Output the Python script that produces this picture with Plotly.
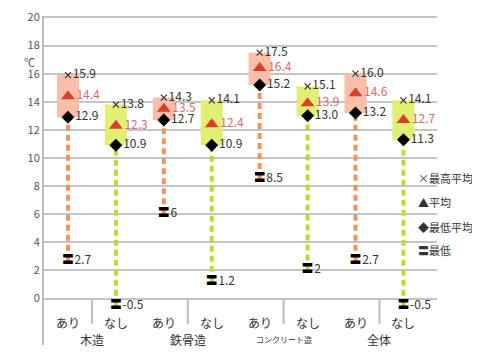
import plotly.graph_objects as go

# ---- data ----
types = ["木造", "鉄骨造", "コンクリート造", "全体"]
ac = ["あり", "なし"]
max_avg = [15.9, 13.8, 14.3, 14.1, 17.5, 15.1, 16.0, 14.1]
avg = [14.4, 12.3, 13.5, 12.4, 16.4, 13.9, 14.6, 12.7]
min_avg = [12.9, 10.9, 12.7, 10.9, 15.2, 13.0, 13.2, 11.3]
min_val = [2.7, -0.5, 6, 1.2, 8.5, 2, 2.7, -0.5]
min_txt = ["2.7", "-0.5", "6", "1.2", "8.5", "2", "2.7", "-0.5"]
yticks = list(range(0, 21, 2))
legend_labels = ["×最高平均", "▲平均", "◆最低平均", "〓最低"]

FONT = "Noto Sans CJK JP"
n = len(avg)
xs = [i + 0.5 for i in range(n)]
is_ari = [i % 2 == 0 for i in range(n)]
box_col = ["#f9bfa9" if a else "#e2ee76" for a in is_ari]
dash_col = {True: "#ef9461", False: "#c3d733"}

# page has an 8px body margin; figure sized to fit inside the window
W, H = 464, 343
L, T = 36, 8
PW, PH = 393, 329
YMIN, YMAX = -3.3, 20.1

fig = go.Figure()

# boxes (min avg -> max avg)
fig.add_trace(go.Bar(
    x=xs, base=min_avg, y=[mx - mn for mx, mn in zip(max_avg, min_avg)],
    width=0.46, marker=dict(color=box_col, line=dict(width=0)),
    hoverinfo="skip", showlegend=False))

# dashed lines min -> min avg
for flag in (True, False):
    lx, ly = [], []
    for i in range(n):
        if is_ari[i] == flag:
            lx += [xs[i], xs[i], None]
            ly += [min_val[i], min_avg[i], None]
    fig.add_trace(go.Scatter(x=lx, y=ly, mode="lines",
                             line=dict(color=dash_col[flag], width=4, dash="6px,4px"),
                             hoverinfo="skip", showlegend=False))

lab_font = dict(family=FONT, size=12, color="#333333")

# max avg (×)
fig.add_trace(go.Scatter(
    x=xs, y=max_avg, mode="markers+text",
    marker=dict(symbol="x-thin", size=6, line=dict(width=1.2, color="#333333")),
    text=[f"{v:.1f}" for v in max_avg], textposition="middle right",
    textfont=lab_font, hoverinfo="skip", showlegend=False))

# average (triangle)
fig.add_trace(go.Scatter(
    x=xs, y=avg, mode="markers+text",
    marker=dict(symbol="triangle-up", size=12, color="#d8402a"),
    text=[f"{v:.1f}" for v in avg], textposition="middle right",
    textfont=dict(family=FONT, size=12, color="#d46a6a"),
    hoverinfo="skip", showlegend=False))

# min avg (diamond)
fig.add_trace(go.Scatter(
    x=xs, y=min_avg, mode="markers+text",
    marker=dict(symbol="diamond", size=10, color="#000000"),
    text=[f"{v:.1f}" for v in min_avg], textposition="middle right",
    textfont=lab_font, hoverinfo="skip", showlegend=False))

# min (〓 glyph)
fig.add_trace(go.Scatter(
    x=xs, y=min_val, mode="text", text=["〓"] * n, textposition="middle center",
    textfont=dict(family=FONT, size=12, color="#000000"),
    hoverinfo="skip", showlegend=False))
fig.add_trace(go.Scatter(
    x=xs, y=min_val, mode="markers+text",
    marker=dict(size=9, color="rgba(0,0,0,0)"),
    text=min_txt, textposition="middle right", textfont=lab_font,
    hoverinfo="skip", showlegend=False))

# category labels
ann = []
for i in range(n):
    ann.append(dict(x=xs[i], y=-1.7, xref="x", yref="y", text=ac[i % 2],
                    showarrow=False, font=dict(family=FONT, size=12, color="#333333")))
for g, name in enumerate(types):
    size = 8 if name == "コンクリート造" else 12
    ann.append(dict(x=2 * g + 1, y=-2.9, xref="x", yref="y", text=name,
                    showarrow=False, font=dict(family=FONT, size=size, color="#333333")))
# unit
ann.append(dict(x=(22 - 44) / PW, y=16.8, xref="paper", yref="y", text="℃", showarrow=False,
                font=dict(family=FONT, size=11, color="#555555")))
# legend text
leg_y = [178, 202, 227, 250]
for t, py in zip(legend_labels, leg_y):
    ann.append(dict(x=(416 - 44) / PW, y=(345 - py) / PH, xref="paper", yref="paper",
                    xanchor="left", yanchor="middle", text=t, showarrow=False,
                    font=dict(family=FONT, size=11, color="#333333")))

shapes = []
for g in range(4):
    shapes.append(dict(type="line", xref="x", yref="y", x0=2 * g + 1, x1=2 * g + 1,
                       y0=0, y1=-1.8, line=dict(color="#bdbdbd", width=2)))

fig.update_layout(
    width=W, height=H,
    margin=dict(l=L, r=W - L - PW, t=T, b=H - T - PH, pad=0),
    paper_bgcolor="white", plot_bgcolor="white",
    annotations=ann, shapes=shapes, showlegend=False,
    xaxis=dict(range=[0, 8.2], showgrid=False, zeroline=False, showticklabels=False,
               showline=False, fixedrange=True, automargin=False),
    yaxis=dict(range=[YMIN, YMAX], tickvals=yticks, showgrid=True,
               gridcolor="#c4c4c4", gridwidth=1.5, zeroline=False,
               showline=True, linecolor="#bdbdbd", linewidth=2,
               tickfont=dict(family=FONT, size=11, color="#555555"),
               ticks="", fixedrange=True, automargin=False),
)

fig.write_html("out.html")
